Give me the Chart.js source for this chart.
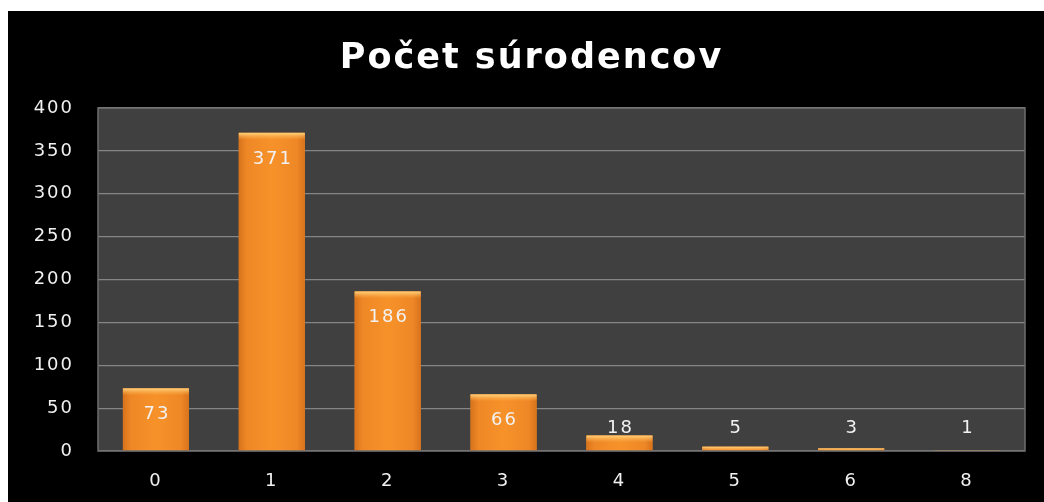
<!DOCTYPE html>
<html>
<head>
<meta charset="utf-8">
<script src="https://cdn.jsdelivr.net/npm/chart.js@4"></script>
<style>
  html, body { margin: 0; padding: 0; background: #ffffff; }
  #box { position: absolute; left: 8px; top: 11px; width: 1036px; height: 491px; background: #000000; }
</style>
</head>
<body>
<div id="box"><canvas id="chart1"></canvas></div>
<script>
// donnees
const categories = ["0", "1", "2", "3", "4", "5", "6", "8"];
const counts = [73, 371, 186, 66, 18, 5, 3, 1];
const yTicks = [0, 50, 100, 150, 200, 250, 300, 350, 400];

// fond gris de la zone du graphe + cadre, texte un peu espace (image etiree)
const plotBg = {
    id: "plotBg",
    beforeUpdate(chart) {
        chart.ctx.letterSpacing = "2px";
    },
    afterLayout(chart) {
        // titre un peu decale vers la droite comme dans l'original
        const t = chart.titleBlock;
        if (t) { t.left += 15; t.right += 15; }
    },
    beforeDraw(chart) {
        const { ctx, chartArea: a } = chart;
        ctx.letterSpacing = "2px";
        ctx.save();
        ctx.fillStyle = "#404040";
        ctx.fillRect(a.left, a.top, a.right - a.left, a.bottom - a.top);
        ctx.restore();
    },
    afterDraw(chart) {
        const { ctx, chartArea: a } = chart;
        ctx.save();
        ctx.strokeStyle = "#6e6e6e";
        ctx.lineWidth = 1.5;
        ctx.strokeRect(a.left, a.top, a.right - a.left, a.bottom - a.top);
        ctx.restore();
    }
};

// ombrage des barres et etiquettes
const barLook = {
    id: "barLook",
    afterDatasetsDraw(chart) {
        const { ctx } = chart;
        const meta = chart.getDatasetMeta(0);
        const base = chart.scales.y.getPixelForValue(0);
        meta.data.forEach((bar, i) => {
            const w = bar.width;
            const left = bar.x - w / 2;
            const top = bar.y;
            const h = base - top;
            ctx.save();
            const g = ctx.createLinearGradient(left, 0, left + w, 0);
            g.addColorStop(0, "#d8731c");
            g.addColorStop(0.12, "#ee8726");
            g.addColorStop(0.5, "#f7922a");
            g.addColorStop(0.88, "#ee8726");
            g.addColorStop(1, "#d8731c");
            ctx.fillStyle = g;
            ctx.fillRect(left, top, w, h);
            const bev = Math.min(7, h);
            const g2 = ctx.createLinearGradient(0, top, 0, top + bev);
            g2.addColorStop(0, "rgba(255,214,130,0.95)");
            g2.addColorStop(1, "rgba(255,180,80,0)");
            ctx.fillStyle = g2;
            ctx.fillRect(left, top, w, bev);

            ctx.fillStyle = "#f2f2f2";
            ctx.font = "18px 'DejaVu Sans'";
            ctx.textAlign = "center";
            ctx.textBaseline = "middle";
            const ly = Math.min(top + 26, base - 23);
            ctx.fillText(String(counts[i]), bar.x + 1, ly);
            ctx.restore();
        });
    }
};

Chart.defaults.font.family = "'DejaVu Sans'";
Chart.defaults.color = "#f0f0f0";

const ctx0 = document.getElementById("chart1");
const chart = new Chart(ctx0, {
    type: "bar",
    data: {
        labels: categories,
        datasets: [{
            data: counts,
            backgroundColor: "#f08a26",
            barPercentage: 0.57,
            categoryPercentage: 1
        }]
    },
    options: {
        responsive: true,
        maintainAspectRatio: false,
        animation: false,
        layout: {
            padding: { left: 0, right: 19, top: 0, bottom: 0 }
        },
        plugins: {
            legend: { display: false },
            tooltip: { enabled: false },
            title: {
                display: true,
                text: "Počet súrodencov",
                color: "#ffffff",
                font: { size: 35, weight: "bold" },
                padding: { top: 27, bottom: 28 }
            }
        },
        scales: {
            x: {
                grid: { display: false, drawTicks: false },
                border: { display: false },
                ticks: { font: { size: 18 }, padding: 20, color: "#f0f0f0" },
                afterFit(s) { s.height = 51; }
            },
            y: {
                min: 0,
                max: 400,
                afterBuildTicks(s) { s.ticks = yTicks.map(v => ({ value: v })); },
                grid: { color: "#858585", lineWidth: 1.2, drawTicks: false },
                border: { display: false },
                ticks: { font: { size: 18 }, padding: 24, color: "#f0f0f0" },
                afterFit(s) { s.width = 90; }
            }
        }
    },
    plugins: [plotBg, barLook]
});
</script>
</body>
</html>
